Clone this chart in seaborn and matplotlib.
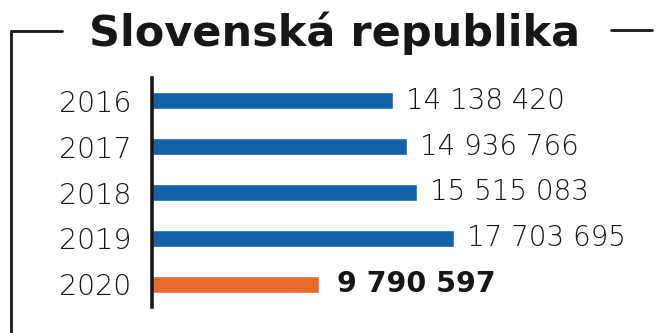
import matplotlib
matplotlib.use("Agg")
import matplotlib.pyplot as plt
from matplotlib.lines import Line2D
import seaborn as sns
import pandas as pd

# Data
years = ["2016", "2017", "2018", "2019", "2020"]
values = [14138420, 14936766, 15515083, 17703695, 9790597]
labels = ["14 138 420", "14 936 766", "15 515 083", "17 703 695", "9 790 597"]
kinds = ["past", "past", "past", "past", "current"]
title = "Slovenská republika"

BLUE = "#1462a8"
ORANGE = "#e8692e"
INK = "#161616"

sns.set_theme(style="white")
plt.rcParams["font.family"] = ["DejaVu Sans"]

W, H = 660, 333
fig = plt.figure(figsize=(W / 100, H / 100), dpi=100)

# axes placed so the baseline sits at x=152px and spans y=78..307px
ax_left, ax_top, ax_bottom = 152, 78, 307
ax = fig.add_axes([ax_left / W, (H - ax_bottom) / H, (W - ax_left) / W, (ax_bottom - ax_top) / H])

df = pd.DataFrame({"year": years, "value": values, "kind": kinds})
sns.barplot(data=df, x="value", y="year", hue="kind", orient="h",
            palette={"past": BLUE, "current": ORANGE}, width=0.37,
            dodge=False, legend=False, saturation=1, ax=ax)

px_per_unit = 17.05 / 1e6
ax.set_xlim(0, (W - ax_left) / px_per_unit)
ax.set_ylim(4.5, -0.5)

for spine in ["top", "right", "bottom"]:
    ax.spines[spine].set_visible(False)
ax.spines["left"].set_color(INK)
ax.spines["left"].set_linewidth(2.6)
ax.set_xticks([])
ax.set_xlabel("")
ax.set_ylabel("")
ax.tick_params(axis="y", length=0, pad=15, labelsize=20.5, labelcolor=INK)
for t in ax.get_yticklabels():
    t.set_fontweight("light")

for i, (v, lab, k) in enumerate(zip(values, labels, kinds)):
    bold = k == "current"
    gap = (18 if bold else 13) / px_per_unit
    ax.text(v + gap, i, lab, va="center", ha="left",
            fontsize=20.5 if bold else 20, color=INK,
            fontweight="bold" if bold else "light")

fig.text(335 / W, 1 - 33 / H, title, ha="center", va="center",
         fontsize=31, fontweight="bold", color=INK)

# frame around the chart, broken by the title
lw = 2.0
fig.add_artist(Line2D([11 / W, 11 / W], [0, 1 - 31 / H], transform=fig.transFigure, color=INK, lw=lw))
fig.add_artist(Line2D([11 / W, 62 / W], [1 - 31 / H, 1 - 31 / H], transform=fig.transFigure, color=INK, lw=lw))
fig.add_artist(Line2D([611 / W, 652 / W], [1 - 30 / H, 1 - 30 / H], transform=fig.transFigure, color=INK, lw=lw))

fig.savefig("out.png", dpi=100, facecolor="white")
